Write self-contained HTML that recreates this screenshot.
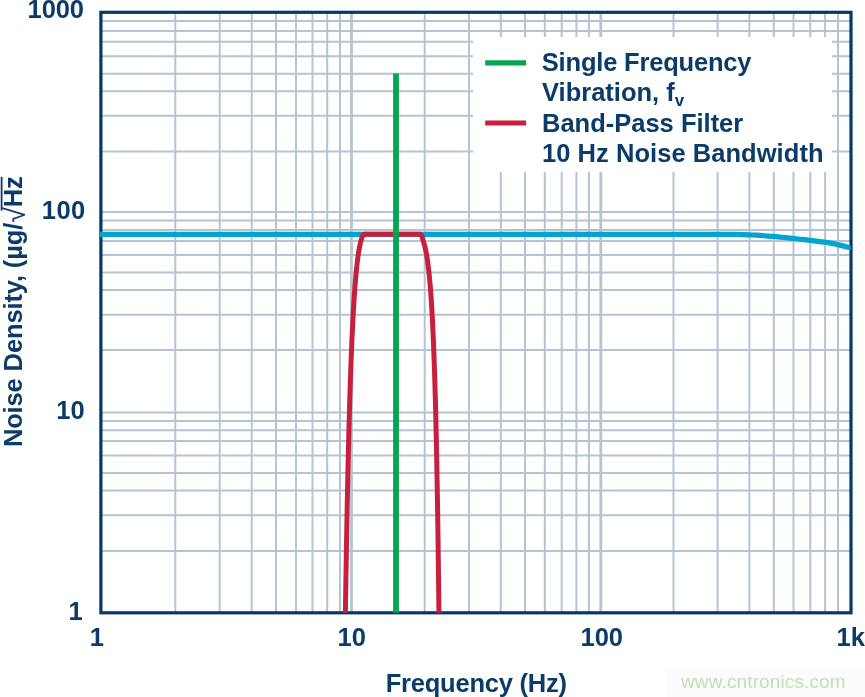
<!DOCTYPE html>
<html><head><meta charset="utf-8"><title>Noise Density vs Frequency</title>
<style>
html,body{margin:0;padding:0;background:#fff;width:865px;height:697px;overflow:hidden}
svg{display:block;will-change:transform}
.t text{font-family:"Liberation Sans",Arial,sans-serif;font-weight:bold;font-size:25.5px;fill:#0b3b69}
.t .rad{font-weight:normal}
.wm{font-family:"Liberation Sans",Arial,sans-serif;font-size:19px;fill:#bce2b5}
</style></head>
<body>
<svg width="865" height="697" viewBox="0 0 865 697">
<defs><clipPath id="pc"><rect x="99.8" y="12.3" width="750.8" height="600.5"/></clipPath></defs>
<rect width="865" height="697" fill="#fff"/>
<g stroke="#b4c4d3" stroke-width="2" fill="none"><line x1="100.9" y1="21.0" x2="851.0" y2="21.0"/><line x1="100.9" y1="31.0" x2="851.0" y2="31.0"/><line x1="100.9" y1="41.8" x2="851.0" y2="41.8"/><line x1="100.9" y1="56.2" x2="851.0" y2="56.2"/><line x1="100.9" y1="73.8" x2="851.0" y2="73.8"/><line x1="100.9" y1="91.2" x2="851.0" y2="91.2"/><line x1="100.9" y1="115.8" x2="851.0" y2="115.8"/><line x1="100.9" y1="151.4" x2="851.0" y2="151.4"/><line x1="100.9" y1="211.95" x2="851.0" y2="211.95"/><line x1="100.9" y1="220.6" x2="851.0" y2="220.6"/><line x1="100.9" y1="229.9" x2="851.0" y2="229.9"/><line x1="100.9" y1="240.9" x2="851.0" y2="240.9"/><line x1="100.9" y1="255.1" x2="851.0" y2="255.1"/><line x1="100.9" y1="272.5" x2="851.0" y2="272.5"/><line x1="100.9" y1="289.9" x2="851.0" y2="289.9"/><line x1="100.9" y1="314.8" x2="851.0" y2="314.8"/><line x1="100.9" y1="350.1" x2="851.0" y2="350.1"/><line x1="100.9" y1="412.6" x2="851.0" y2="412.6"/><line x1="100.9" y1="421.0" x2="851.0" y2="421.0"/><line x1="100.9" y1="430.2" x2="851.0" y2="430.2"/><line x1="100.9" y1="441.0" x2="851.0" y2="441.0"/><line x1="100.9" y1="455.6" x2="851.0" y2="455.6"/><line x1="100.9" y1="472.9" x2="851.0" y2="472.9"/><line x1="100.9" y1="490.4" x2="851.0" y2="490.4"/><line x1="100.9" y1="515.2" x2="851.0" y2="515.2"/><line x1="100.9" y1="551.1" x2="851.0" y2="551.1"/><line x1="175.3" y1="12.3" x2="175.3" y2="612.8"/><line x1="219.7" y1="12.3" x2="219.7" y2="612.8"/><line x1="251.7" y1="12.3" x2="251.7" y2="612.8"/><line x1="276.0" y1="12.3" x2="276.0" y2="612.8"/><line x1="296.0" y1="12.3" x2="296.0" y2="612.8"/><line x1="312.5" y1="12.3" x2="312.5" y2="612.8"/><line x1="327.2" y1="12.3" x2="327.2" y2="612.8"/><line x1="340.0" y1="12.3" x2="340.0" y2="612.8"/><line x1="424.7" y1="12.3" x2="424.7" y2="612.8"/><line x1="469.0" y1="12.3" x2="469.0" y2="612.8"/><line x1="500.8" y1="12.3" x2="500.8" y2="612.8"/><line x1="525.0" y1="12.3" x2="525.0" y2="612.8"/><line x1="544.8" y1="12.3" x2="544.8" y2="612.8"/><line x1="561.7" y1="12.3" x2="561.7" y2="612.8"/><line x1="576.4" y1="12.3" x2="576.4" y2="612.8"/><line x1="588.9" y1="12.3" x2="588.9" y2="612.8"/><line x1="673.5" y1="12.3" x2="673.5" y2="612.8"/><line x1="717.6" y1="12.3" x2="717.6" y2="612.8"/><line x1="749.4" y1="12.3" x2="749.4" y2="612.8"/><line x1="773.8" y1="12.3" x2="773.8" y2="612.8"/><line x1="793.5" y1="12.3" x2="793.5" y2="612.8"/><line x1="810.3" y1="12.3" x2="810.3" y2="612.8"/><line x1="825.1" y1="12.3" x2="825.1" y2="612.8"/><line x1="838.0" y1="12.3" x2="838.0" y2="612.8"/></g><g stroke="#b4c4d3" stroke-width="2.8" fill="none"><line x1="351.5" y1="12.3" x2="351.5" y2="612.8"/><line x1="600.8" y1="12.3" x2="600.8" y2="612.8"/></g>
<rect x="473" y="37" width="359" height="135" fill="#fff"/>
<rect x="100.9" y="12.3" width="750.1" height="600.5" fill="none" stroke="#063868" stroke-width="3.2"/>
<g clip-path="url(#pc)"><path d="M99,234.4 L736,234.4 L740,234.53 744,234.66 748,234.82 752,234.99 756,235.20 760,235.46 764,235.74 768,236.05 772,236.36 776,236.71 780,237.08 784,237.48 788,237.89 792,238.31 796,238.75 800,239.21 804,239.68 808,240.16 812,240.64 816,241.11 820,241.59 824,242.10 828,242.68 832,243.36 836,244.19 840,245.14 844,246.14 848,247.15 852,248.16 856,249.20" stroke="#03a4cf" stroke-width="5.2" fill="none" stroke-linejoin="round"/><path d="M345.32,618 L345.59,600 345.90,580 346.23,560 346.58,540 346.94,520 347.33,500 347.75,480 348.20,460 348.68,440 349.20,420 349.78,400 350.41,380 351.12,360 351.93,340 352.88,320 354.02,300 355.07,285 356.39,270 357.52,260 358.65,252 359.74,246 360.65,242 361.19,240 Q362.19,234.85 364.79,234.25 L419.91,234.25 Q422.01,234.85 422.91,240 L423.60,242 424.74,246 426.07,252 427.42,260 428.71,270 430.16,285 431.28,300 432.44,320 433.37,340 434.14,360 434.80,380 435.37,400 435.88,420 436.33,440 436.73,460 437.10,480 437.44,500 437.75,520 438.04,540 438.30,560 438.55,580 438.79,600 438.98,618" stroke="#c91f3e" stroke-width="5" fill="none" stroke-linejoin="round"/><line x1="396" y1="73.6" x2="396" y2="614" stroke="#04a64f" stroke-width="5.8"/></g>
<line x1="485.2" y1="62.8" x2="526.1" y2="62.8" stroke="#04a64f" stroke-width="5.2"/><line x1="485.2" y1="123" x2="526.1" y2="123" stroke="#c91f3e" stroke-width="5.2"/>
<g class="t">
<text x="27.6" y="17.8" textLength="56.4" lengthAdjust="spacing">1000</text><text x="41.8" y="218.8" textLength="43.35" lengthAdjust="spacing">100</text><text x="56.25" y="418.8">10</text><text x="68.6" y="619.9">1</text><text x="89.8" y="645.8">1</text><text x="337.6" y="645.8">10</text><text x="580.5" y="645.8">100</text><text x="836.6" y="645.8">1k</text><text x="385.7" y="691.8" textLength="181.3" lengthAdjust="spacing">Frequency (Hz)</text><text x="541.8" y="70.6" textLength="209.7" lengthAdjust="spacing">Single Frequency</text><text x="542" y="100.6">Vibration, f<tspan font-size="17" dy="5">v</tspan></text><text x="542" y="131.7">Band-Pass Filter</text><text x="542" y="161.8" textLength="281.5" lengthAdjust="spacing">10 Hz Noise Bandwidth</text>
<g transform="translate(22,447.1) rotate(-90)"><text x="0" y="0" textLength="270.8" lengthAdjust="spacing">Noise Density, (µg/<tspan class="rad" font-size="28.5" dy="3" dx="0">√</tspan><tspan dy="-3" dx="0">Hz</tspan></text><line x1="236.5" y1="-20.4" x2="270.3" y2="-20.4" stroke="#0b3b69" stroke-width="1.8"/></g>
</g>
<rect x="665" y="667" width="200" height="30" fill="#fcfcfc"/><text x="681" y="687.6" class="wm" textLength="164.6" lengthAdjust="spacing">www.cntronics.com</text>
</svg>
</body></html>
